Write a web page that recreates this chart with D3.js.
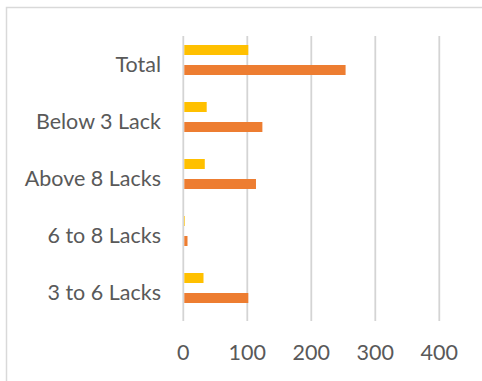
<!DOCTYPE html>
<html>
<head>
<meta charset="utf-8">
<script src="https://cdn.jsdelivr.net/npm/d3@7"></script>
<style>
  body { margin: 0; background: #fff; }
  text { font-family: Lato, "Liberation Sans", sans-serif; fill: #595959; }
</style>
</head>
<body>
<svg id="chart"></svg>
<script>
// Chart size
const width = 482;
const height = 381;

// Data
const categories = ['Total', 'Below 3 Lack', 'Above 8 Lacks', '6 to 8 Lacks', '3 to 6 Lacks'];
const series = ['A', 'B'];
const valuesA = [100, 35, 32, 1, 30];
const valuesB = [252, 122, 112, 5, 100];
const xTicks = [0, 100, 200, 300, 400];
const colors = ['#FFC000', '#ED7D31'];

const svg = d3.select('#chart')
  .attr('width', width)
  .attr('height', height);

// Outer chart border (runs off the right and bottom edges)
svg.append('rect')
  .attr('x', 6.5)
  .attr('y', 7.5)
  .attr('width', 500)
  .attr('height', 400)
  .attr('fill', 'none')
  .attr('stroke', '#d9d9d9')
  .attr('stroke-width', 1.5);

// Scales
const x = d3.scaleLinear().domain([0, 400]).range([183.3, 439.3]);
const y = d3.scaleBand().domain(categories).range([36, 321]);
const inner = d3.scaleBand().domain(series).range([9, 39]).paddingInner(0.5);

// Gridlines
svg.append('g')
  .selectAll('line')
  .data(xTicks)
  .enter()
  .append('line')
  .attr('x1', (d) => x(d))
  .attr('x2', (d) => x(d))
  .attr('y1', 36)
  .attr('y2', 321)
  .attr('stroke', '#d4d4d4')
  .attr('stroke-width', 1.8);

// Bars
const rows = categories.map((c, i) => ({ cat: c, vals: [valuesA[i], valuesB[i]] }));
const groups = svg.append('g')
  .selectAll('g')
  .data(rows)
  .enter()
  .append('g')
  .attr('transform', (d) => `translate(0,${y(d.cat)})`);

groups.selectAll('rect')
  .data((d) => d.vals.map((v, j) => ({ s: series[j], v: v, j: j })))
  .enter()
  .append('rect')
  .attr('x', x(0) + 1)
  .attr('y', (d) => inner(d.s))
  .attr('width', (d) => x(d.v) - x(0))
  .attr('height', inner.bandwidth())
  .attr('fill', (d) => colors[d.j]);

// Category labels
svg.append('g')
  .selectAll('text')
  .data(categories)
  .enter()
  .append('text')
  .attr('x', 161)
  .attr('y', (d) => y(d) + y.bandwidth() / 2)
  .attr('dy', '0.35em')
  .attr('text-anchor', 'end')
  .style('font-size', '21.5px')
  .text((d) => d);

// Value axis labels
svg.append('g')
  .selectAll('text')
  .data(xTicks)
  .enter()
  .append('text')
  .attr('x', (d) => x(d))
  .attr('y', 352)
  .attr('dy', '0.35em')
  .attr('text-anchor', 'middle')
  .style('font-size', '21.5px')
  .text((d) => d);
</script>
</body>
</html>
